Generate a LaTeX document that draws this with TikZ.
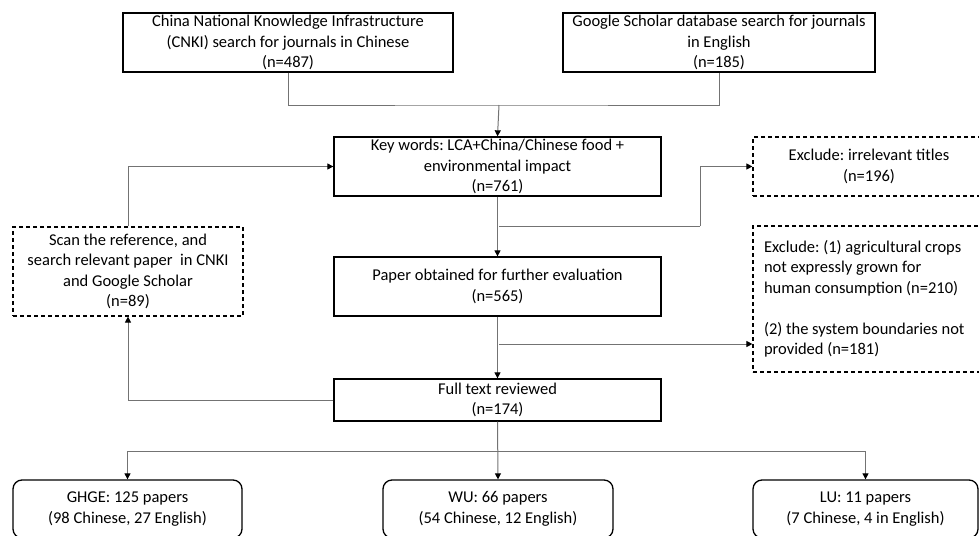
\documentclass[tikz,border=0pt]{standalone}
\usepackage{fontspec}
\setmainfont{Carlito}
\frenchspacing
\usetikzlibrary{arrows.meta, positioning, calc}

\begin{document}
\begin{tikzpicture}[
            x=1pt,
            y=-1pt,
            font=\fontsize{16.5}{20.5}\selectfont\frenchspacing,
            box/.style={draw=black, line width=1.3pt, inner sep=0pt, align=center},
            dbox/.style={box, dash pattern=on 4pt off 3pt, line width=1.2pt},
            rbox/.style={box, rounded corners=9pt},
            line/.style={draw=black!55, line width=1pt},
            arr/.style={line, -{Triangle[width=6pt, length=6pt, black]}}
            ]
            \useasboundingbox (0,0) rectangle (979,535);

            % 数据库检索
            \node[box, minimum width=330, minimum height=59] (cnki) at (288,42.5)
                {China National Knowledge Infrastructure\\(CNKI) search for journals in Chinese\\(n=487)};
            \node[box, minimum width=312, minimum height=59] (google) at (719,42.5)
                {Google Scholar database search for journals\\in English\\(n=185)};

            % 主流程
            \node[box, minimum width=327, minimum height=59] (key) at (497.5,166.5)
                {Key words: LCA+China/Chinese food +\\environmental impact\\(n=761)};
            \node[box, minimum width=327, minimum height=59] (paper) at (497.5,286.5)
                {Paper obtained for further evaluation\\(n=565)};
            \node[box, minimum width=327, minimum height=42] (full) at (497.5,400)
                {Full text reviewed\\(n=174)};

            % 排除
            \node[dbox, minimum width=232, minimum height=59] (excl1) at (869,166.5)
                {Exclude: irrelevant titles\\(n=196)};
            \node[dbox, minimum width=232, minimum height=146, text width=210, align=flush left] (excl2) at (869,299)
                {Exclude: (1) agricultural crops\\not expressly grown for\\human consumption (n=210)\\[20.5pt](2) the system boundaries not\\provided (n=181)};

            % 补充检索
            \node[dbox, minimum width=230, minimum height=89] (scan) at (128,271.5)
                {Scan the reference, and\\search relevant paper\ \ in CNKI\\and Google Scholar\\(n=89)};

            % 分类结果
            \node[rbox, minimum width=229, minimum height=58] (ghge) at (127.5,509)
                {GHGE: 125 papers\\(98 Chinese, 27 English)};
            \node[rbox, minimum width=230, minimum height=58] (wu) at (498,509)
                {WU: 66 papers\\(54 Chinese, 12 English)};
            \node[rbox, minimum width=225, minimum height=58] (lu) at (865.5,509)
                {LU: 11 papers\\(7 Chinese, 4 in English)};

            % 连线
            \coordinate (merge) at (499,105);
            \coordinate (b1) at (499,226);
            \coordinate (k1) at (700,226);
            \coordinate (b2) at (499,344);
            \coordinate (b3) at (499,451);

            \draw[line] (cnki.south) |- (merge) -| (google.south);
            \draw[arr] (merge) -- (key.north);
            \draw[arr] (key.south) -- (paper.north);
            \draw[line] (b1) -- (k1);
            \draw[arr] (k1) |- (excl1.west);
            \draw[arr] (paper.south) -- (full.north);
            \draw[arr] (b2) -- (b2 -| excl2.west);
            \draw[arr] (full.west) -| (scan.south);
            \draw[arr] (scan.north) |- (key.west);
            \draw[arr] (full.south) -- (wu.north);
            \draw[arr] (b3) -| (ghge.north);
            \draw[arr] (b3) -| (lu.north);
        \end{tikzpicture}
\end{document}
